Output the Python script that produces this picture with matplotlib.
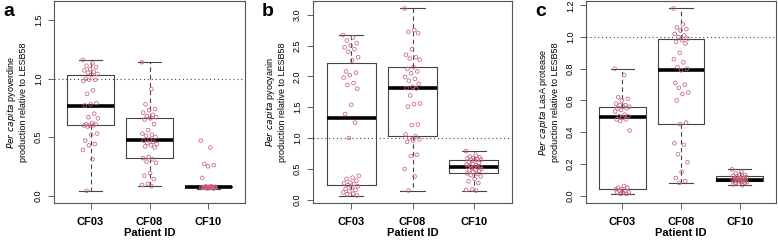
#!/usr/bin/env python3

import matplotlib

matplotlib.use("Agg")
import matplotlib.pyplot as plt

plt.rcParams["font.family"] = ["Liberation Sans", "DejaVu Sans"]

patients = ["CF03", "CF08", "CF10"]

# panel a: pyoverdine
pyo_cf03 = [1.16, 1.13, 1.11, 1.10, 1.08, 1.07, 1.06, 1.05, 1.04, 1.03, 1.00, 0.99,
            0.99, 0.98, 0.90, 0.87, 0.79, 0.78, 0.77, 0.70, 0.67, 0.66, 0.62, 0.61,
            0.61, 0.60, 0.60, 0.60, 0.59, 0.53, 0.52, 0.47, 0.44, 0.43, 0.39, 0.31, 0.04]
pyo_cf08 = [1.14, 0.91, 0.78, 0.74, 0.73, 0.71, 0.69, 0.68, 0.67, 0.66, 0.65, 0.61,
            0.56, 0.53, 0.52, 0.51, 0.50, 0.48, 0.47, 0.46, 0.45, 0.44, 0.43, 0.42,
            0.41, 0.33, 0.32, 0.31, 0.29, 0.28, 0.19, 0.17, 0.14, 0.10, 0.09, 0.08]
pyo_cf10 = [0.47, 0.41, 0.27, 0.26, 0.25, 0.15, 0.08, 0.08, 0.075, 0.075, 0.07, 0.07,
            0.07, 0.07, 0.07, 0.07, 0.07, 0.07, 0.07, 0.07, 0.07, 0.065, 0.065, 0.065,
            0.06, 0.06]

# panel b: pyocyanin
pyc_cf03 = [2.67, 2.63, 2.58, 2.54, 2.50, 2.47, 2.44, 2.40, 2.31, 2.26, 2.08, 2.06,
            2.02, 1.98, 1.89, 1.86, 1.80, 1.54, 1.39, 1.25, 1.00, 0.39, 0.36, 0.34,
            0.31, 0.28, 0.27, 0.26, 0.24, 0.22, 0.20, 0.18, 0.16, 0.14, 0.12, 0.10,
            0.09, 0.07]
pyc_cf08 = [3.10, 2.75, 2.72, 2.70, 2.44, 2.35, 2.31, 2.29, 2.27, 2.15, 2.12, 2.08,
            2.05, 1.99, 1.96, 1.93, 1.88, 1.83, 1.81, 1.80, 1.69, 1.56, 1.55, 1.51,
            1.22, 1.21, 1.06, 1.03, 1.00, 0.98, 0.96, 0.94, 0.73, 0.71, 0.50, 0.38, 0.15]
pyc_cf10 = [0.79, 0.72, 0.70, 0.69, 0.68, 0.67, 0.66, 0.65, 0.65, 0.64, 0.62, 0.60,
            0.58, 0.57, 0.56, 0.55, 0.54, 0.53, 0.53, 0.52, 0.51, 0.50, 0.49, 0.48,
            0.47, 0.45, 0.43, 0.42, 0.40, 0.38, 0.34, 0.30, 0.27, 0.17, 0.16, 0.15]

# panel c: LasA protease
las_cf03 = [0.80, 0.76, 0.62, 0.61, 0.60, 0.58, 0.57, 0.57, 0.56, 0.56, 0.55, 0.55,
            0.54, 0.53, 0.51, 0.50, 0.50, 0.49, 0.48, 0.48, 0.47, 0.41, 0.06, 0.05,
            0.05, 0.04, 0.04, 0.03, 0.03, 0.02, 0.02, 0.02, 0.01, 0.01]
las_cf08 = [1.18, 1.08, 1.06, 1.05, 1.04, 1.02, 1.01, 1.00, 0.99, 0.98, 0.97, 0.96,
            0.90, 0.86, 0.84, 0.81, 0.80, 0.79, 0.71, 0.70, 0.68, 0.65, 0.64, 0.60,
            0.46, 0.45, 0.33, 0.32, 0.26, 0.21, 0.15, 0.11, 0.09, 0.08]
las_cf10 = [0.165, 0.15, 0.14, 0.13, 0.13, 0.125, 0.12, 0.12, 0.115, 0.11, 0.11, 0.11,
            0.105, 0.10, 0.10, 0.10, 0.10, 0.095, 0.09, 0.09, 0.09, 0.085, 0.085, 0.08,
            0.08, 0.075, 0.07, 0.065]

panels = [
    ("a", "pyoverdine", [pyo_cf03, pyo_cf08, pyo_cf10], (0.0, 1.6), [0.0, 0.5, 1.0, 1.5]),
    ("b", "pyocyanin", [pyc_cf03, pyc_cf08, pyc_cf10], (0.07, 3.10), [0.0, 0.5, 1.0, 1.5, 2.0, 2.5, 3.0]),
    ("c", "LasA protease", [las_cf03, las_cf08, las_cf10], (0.0, 1.18), [0.0, 0.2, 0.4, 0.6, 0.8, 1.0, 1.2]),
]

# axes boxes in pixels: left, right (figure is 778 x 246)
boxes_px = [(54, 245), (313, 512), (586, 776)]
W, H = 778, 246
top_px, bottom_px = 1, 203

fig = plt.figure(figsize=(W / 100, H / 100), dpi=100)

for (letter, product, groups, yr, yticks), (lpx, rpx) in zip(panels, boxes_px):
    ax = fig.add_axes([lpx / W, (H - bottom_px) / H, (rpx - lpx) / W, (bottom_px - top_px) / H])

    ax.boxplot(
        groups,
        positions=[1, 2, 3],
        widths=0.8,
        capwidths=0.4,
        showfliers=False,
        whis=1.5,
        boxprops=dict(color="#444444", linewidth=0.8),
        whiskerprops=dict(color="#444444", linewidth=0.8, linestyle=(0, (4, 3))),
        capprops=dict(color="#444444", linewidth=0.8),
        medianprops=dict(color="black", linewidth=2.6),
    )

    for pos, vals in enumerate(groups, start=1):
        # deterministic spread around each position
        offs = [((k * 0.6180339) % 1.0 - 0.5) * 0.26 for k in range(len(vals))]
        ax.scatter([pos + o for o in offs], vals, s=7, facecolors="none",
                   edgecolors="#c8647c", linewidths=0.55, zorder=3)

    ax.axhline(1.0, color="#444444", linestyle=(0, (1, 2.5)), linewidth=0.8, zorder=1)

    span = yr[1] - yr[0]
    ax.set_ylim(yr[0] - 0.04 * span, yr[1] + 0.04 * span)
    ax.set_xlim(0.38, 3.62)
    ax.set_yticks(yticks)
    ax.set_yticklabels([f"{t:.1f}" for t in yticks], rotation=90, va="center", fontsize=6.5)
    ax.set_xticks([1, 2, 3])
    ax.set_xticklabels(patients, fontsize=8, fontweight="bold")
    ax.tick_params(axis="both", length=4, width=0.6, colors="#444444", labelcolor="black")
    ax.tick_params(axis="x", pad=6)
    ax.tick_params(axis="y", pad=4)
    for sp in ax.spines.values():
        sp.set_color("#555555")
        sp.set_linewidth(0.8)

    ax.set_xlabel("Patient ID", fontsize=8, fontweight="bold", labelpad=1)
    ax.set_ylabel(r"$\it{Per\ capita}$ " + product + "\nproduction relative to LESB58",
                  fontsize=6.5, labelpad=4, linespacing=1.2)

    fig.text((lpx - 51) / W, 1 - 3 / H, letter, fontsize=14, fontweight="bold",
             va="top", ha="left")

fig.savefig("out.png", dpi=100)
